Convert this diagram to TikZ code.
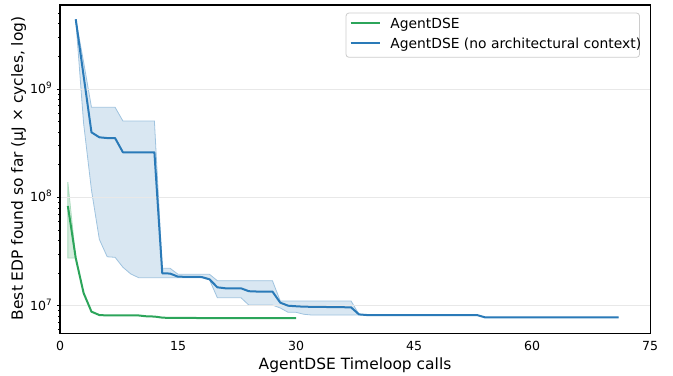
\documentclass[tikz,border=0pt]{standalone}
\usepackage{fontspec}
\setmainfont{DejaVu Sans}
\definecolor{vert}{HTML}{2CA55A}
\definecolor{bleu}{HTML}{2A7AB8}

\begin{document}
\begin{tikzpicture}[x=5.9pt,y=81.225pt]
\tikzstyle{bandebleue} = [fill=bleu!18,draw=bleu!45,line width=0.6pt] %zone min-max
\tikzstyle{bandeverte} = [fill=vert!20,draw=vert!40,line width=0.6pt]
\tikzstyle{courbebleue} = [bleu,line width=1.5pt,line join=round]
\tikzstyle{courbeverte} = [vert,line width=1.5pt,line join=round]
\tikzstyle{grille} = [black!9,line width=0.6pt]
\tikzstyle{graduation} = [font=\fontsize{9.4pt}{11pt}\selectfont,inner sep=0pt]
\tikzstyle{legende} = [font=\fontsize{10.4pt}{12pt}\selectfont,inner sep=0pt]
\tikzstyle{etiquette} = [font=\fontsize{11.6pt}{14pt}\selectfont,inner sep=0pt]

\useasboundingbox (-7.627,-0.6399) rectangle (77.92,2.8227);

%remplir les bandes
\filldraw[bandeverte] (1,1.14)--(2,0.44)--(1,0.44)--cycle;
\filldraw[bandebleue] (2,2.645)--(3,2.25)--(4,1.832)--(7,1.832)--(8,1.705)--(12,1.705)
  --(13,0.345)--(14,0.345)--(15,0.290)--(19,0.290)--(20,0.231)--(27,0.231)
  --(28,0.043)--(37,0.043)--(38,-0.079)--(39,-0.086)--(53,-0.086)--(54,-0.107)--(71,-0.107)
  --(54,-0.107)--(53,-0.086)--(39,-0.086)--(38,-0.085)--(37,-0.086)--(32,-0.086)
  --(31,-0.079)--(30,-0.061)--(29,-0.061)--(28,-0.021)--(27,0.006)--(24,0.006)
  --(23,0.074)--(20,0.074)--(19,0.240)--(18,0.259)--(10,0.259)--(9,0.293)--(8,0.355)
  --(7,0.447)--(6,0.452)--(5,0.613)--(4,1.068)--(3,1.684)--cycle;

%grille horizontale
\draw[grille] (0,0)--(75,0);
\draw[grille] (0,1)--(75,1);
\draw[grille] (0,2)--(75,2);

%tracer les courbes
\draw[courbeverte] (1,0.921)--(2,0.440)--(3,0.117)--(4,-0.055)--(5,-0.086)--(6,-0.090)
  --(10,-0.090)--(11,-0.098)--(12,-0.100)--(13,-0.110)--(14,-0.113)--(30,-0.115);
\draw[courbebleue] (2,2.645)--(3,2.123)--(4,1.601)--(5,1.555)--(6,1.548)--(7,1.548)
  --(8,1.416)--(12,1.416)--(13,0.299)--(14,0.297)--(15,0.268)--(18,0.265)--(19,0.244)
  --(20,0.170)--(21,0.161)--(23,0.161)--(24,0.134)--(25,0.131)--(27,0.131)--(28,0.028)
  --(29,0.000)--(30,-0.005)--(31,-0.009)--(37,-0.015)--(38,-0.080)--(39,-0.086)
  --(53,-0.086)--(54,-0.107)--(71,-0.107);

%cadre
\draw[line width=0.8pt] (0,-0.254) rectangle (75,2.7765);

%graduations
\foreach \v in {0,15,...,75}
  \node[graduation,anchor=base] (x\v) at (\v,-0.4137) {\v};
\foreach \e in {0,1,2}{
  \draw[line width=0.8pt] (0,\e)--++(-2.6pt,0);
  \node[graduation,anchor=base east,yshift=-3.4pt] (y\e) at (-0.93,\e) {10\textsuperscript{\the\numexpr\e+7\relax}};
}
\foreach \d in {-1,0,1,2}
  \foreach \k in {2,...,9}{
    \pgfmathsetmacro\yy{\d+log10(\k)}
    \ifdim\yy pt>-0.254pt \ifdim\yy pt<2.777pt
      \draw[line width=0.6pt] (0,\yy)--++(-1.5pt,0);
    \fi\fi
  }

%titres des axes
\node[etiquette,anchor=base] (xlabel) at (37.5,-0.587) {AgentDSE Timeloop calls};
\node[etiquette,rotate=90,anchor=base] (ylabel) at (-4.729,1.2687) {Best EDP found so far (µJ × cycles, log)};

%legende
\draw[rounded corners=2.25pt,draw=black!20,fill=white,line width=0.6pt] (36.356,2.2936) rectangle (73.665,2.7027);
\draw[courbeverte] (36.95,2.6076)--(40.68,2.6076);
\draw[courbebleue] (36.95,2.4229)--(40.68,2.4229);
\node[legende,anchor=base west,yshift=-3.8pt] (leg1) at (41.95,2.6076) {AgentDSE};
\node[legende,anchor=base west,yshift=-3.8pt] (leg2) at (41.95,2.4229) {AgentDSE (no architectural context)};
\end{tikzpicture}
\end{document}
